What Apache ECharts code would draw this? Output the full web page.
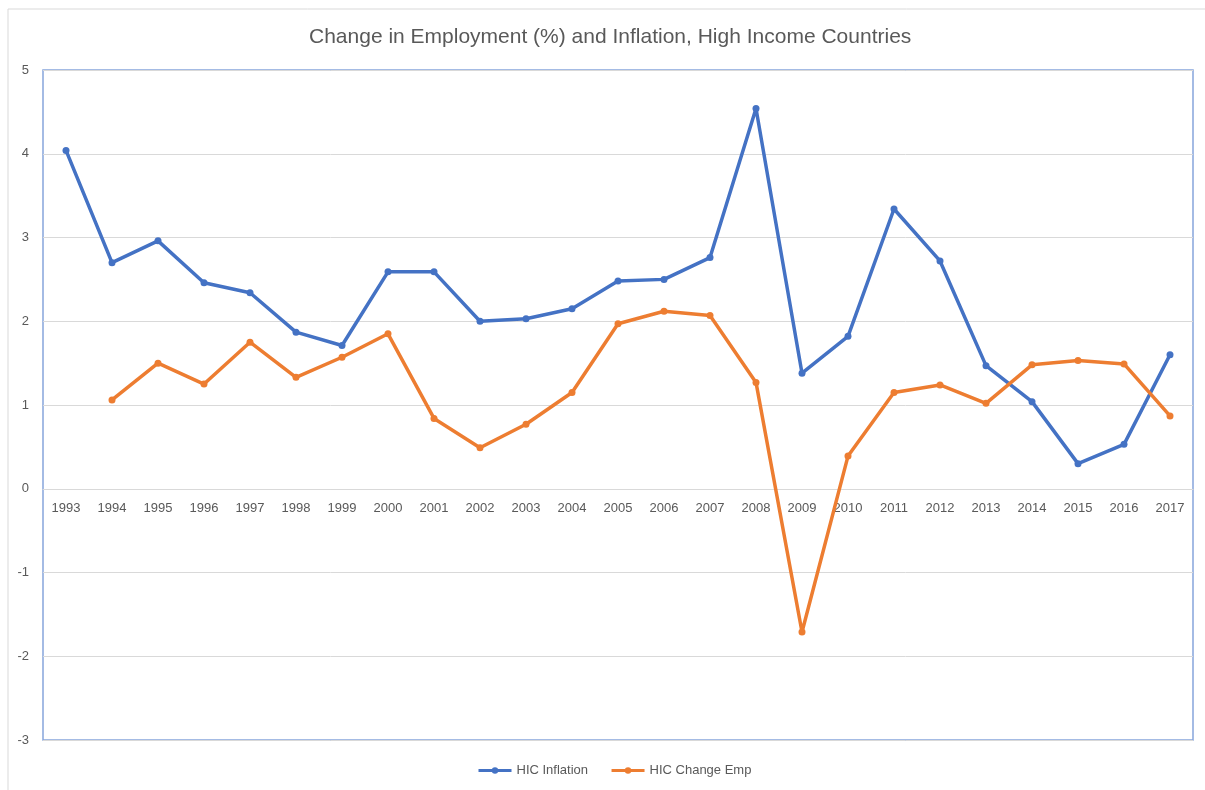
<!DOCTYPE html>
<html>
<head>
<meta charset="utf-8">
<script src="https://cdn.jsdelivr.net/npm/echarts@6/dist/echarts.min.js"></script>
<style>
  html, body { margin: 0; padding: 0; background: #fff; }
  #chart { width: 1205px; height: 790px; }
</style>
</head>
<body>
<div id="chart"></div>
<script>
const years = [
  "1993", "1994", "1995", "1996", "1997", "1998", "1999", "2000", "2001",
  "2002", "2003", "2004", "2005", "2006", "2007", "2008", "2009", "2010",
  "2011", "2012", "2013", "2014", "2015", "2016", "2017",
];
const inflation = [
  4.04, 2.70, 2.96, 2.46, 2.34, 1.87, 1.71, 2.59, 2.59,
  2.00, 2.03, 2.15, 2.48, 2.50, 2.76, 4.54, 1.38, 1.82,
  3.34, 2.72, 1.47, 1.04, 0.30, 0.53, 1.60,
];
const changeEmp = [
  null, 1.06, 1.50, 1.25, 1.75, 1.33, 1.57, 1.85, 0.84,
  0.49, 0.77, 1.15, 1.97, 2.12, 2.07, 1.27, -1.71, 0.39,
  1.15, 1.24, 1.02, 1.48, 1.53, 1.49, 0.87,
];

const myChart = echarts.init(document.getElementById("chart"));
const textColor = "#595959";
const font = "Liberation Sans";

// plot area in px, used to put the category axis on the zero line
const gridTop = 70;
const gridBottom = 50;
const yMin = -3;
const yMax = 5;
const plotH = 790 - gridTop - gridBottom;
const zeroOffset = -plotH * (0 - yMin) / (yMax - yMin);

const option = {
  color: ["#4472c4", "#ed7d31"],
  animation: false,
  graphic: [
    {
      type: "rect",
      shape: { x: 8, y: 9, width: 1400, height: 1000 },
      style: { fill: null, stroke: "#d9d9d9", lineWidth: 1 },
      silent: true,
    },
  ],
  title: {
    text: "Change in Employment (%) and Inflation, High Income Countries",
    left: 304,
    top: 22,
    textStyle: {
      color: textColor,
      fontSize: 21,
      fontWeight: "normal",
      fontFamily: font,
    },
  },
  legend: {
    bottom: 8,
    left: 472,
    itemWidth: 33,
    itemHeight: 8,
    itemGap: 22,
    lineStyle: { width: 3 },
    textStyle: { color: textColor, fontSize: 13, fontFamily: font },
  },
  grid: {
    left: 43,
    right: 12,
    top: gridTop,
    bottom: gridBottom,
    show: true,
    borderColor: "#86a5dc",
    borderWidth: 1.5,
  },
  xAxis: {
    type: "category",
    data: years,
    offset: zeroOffset,
    axisLine: { onZero: false, lineStyle: { color: "#d9d9d9" } },
    axisTick: { show: false },
    axisLabel: {
      interval: 0,
      margin: 13,
      color: textColor,
      fontSize: 13,
      fontFamily: font,
    },
  },
  yAxis: {
    type: "value",
    min: yMin,
    max: yMax,
    interval: 1,
    axisLine: { show: false },
    axisTick: { show: false },
    axisLabel: { color: textColor, fontSize: 13, fontFamily: font, margin: 14 },
    splitLine: { lineStyle: { color: "#d9d9d9" } },
  },
  series: [
    {
      name: "HIC Inflation",
      type: "line",
      data: inflation,
      symbol: "circle",
      symbolSize: 7,
      lineStyle: { width: 3.5 },
    },
    {
      name: "HIC Change Emp",
      type: "line",
      data: changeEmp,
      symbol: "circle",
      symbolSize: 7,
      lineStyle: { width: 3.5 },
    },
  ],
};

myChart.setOption(option);
</script>
</body>
</html>
